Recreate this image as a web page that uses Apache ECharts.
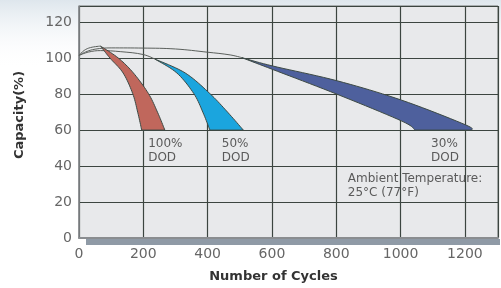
<!DOCTYPE html>
<html lang="en">
  <head>
    <meta charset="UTF-8" />
    <title>Capacity vs Cycles</title>
    <script src="https://cdn.jsdelivr.net/npm/echarts@6/dist/echarts.min.js"></script>
    <style>
      html, body { margin: 0; padding: 0; background: #fff; }
    </style>
  </head>
  <body>
    <div id="main" style="width: 501px; height: 288px"></div>
  </body>
</html>
<script>
  // envelope curves (cycles, capacity %)
  const curve100 = [[0, 101.5], [16, 104.3], [36, 105.9], [67, 106.7]]
  const curve50 = [[0, 101.5], [30, 103.4], [67, 104.2], [130, 103.6], [200, 102], [236, 99.5]]
  const curve30 = [[0, 101.5], [20, 103.4], [50, 105], [100, 105.7], [200, 105.6], [300, 105.1], [400, 103.3], [470, 101.8], [506, 100.3]]

  // wedge edges, each from the top point down to 60 %
  const outer100 = [[67, 106.7], [122, 100.1], [169, 91.8], [216, 80.3], [245, 69.6], [267, 60]]
  const inner100 = [[67, 106.7], [96, 100.1], [137, 91.8], [167, 80.3], [183, 69.6], [195, 60]]
  const outer50 = [[236, 99.5], [330, 91.8], [407, 80.3], [464, 69.6], [511, 60]]
  const inner50 = [[236, 99.5], [304, 91.8], [357, 80.3], [386, 69.6], [407, 60]]
  const outer30 = [[506, 100.3], [601, 95.7], [803, 87.4], [1004, 76.6], [1201, 63], [1221, 60]]
  const inner30 = [[506, 100.3], [601, 93.8], [803, 79.9], [1004, 65], [1045, 60]]

  const wedgeColors = ['#c0675c', '#1ba5de', '#4e609d']

  // annotation text (top-left anchor in data coords)
  const noteX = [215, 444, 1095, 836]
  const noteY = [56, 56, 56, 36.6]
  const noteText = ['100%\nDOD', '50%\nDOD', '30%\nDOD', 'Ambient Temperature:\n25°C (77°F)']

  const chartInstance = echarts.init(document.getElementById('main'))

  const wedges = [
    [outer100, inner100],
    [outer50, inner50],
    [outer30, inner30]
  ]

  // catmull-rom through pixel points, just for drawing smooth edges
  function spline(pts, steps) {
    const out = [pts[0]]
    for (let i = 0; i < pts.length - 1; i++) {
      const p0 = pts[Math.max(i - 1, 0)]
      const p1 = pts[i]
      const p2 = pts[i + 1]
      const p3 = pts[Math.min(i + 2, pts.length - 1)]
      for (let s = 1; s <= steps; s++) {
        const t = s / steps
        const t2 = t * t
        const t3 = t2 * t
        const pt = [0, 1].map(
          (k) =>
            0.5 *
            (2 * p1[k] +
              (-p0[k] + p2[k]) * t +
              (2 * p0[k] - 5 * p1[k] + 4 * p2[k] - p3[k]) * t2 +
              (-p0[k] + 3 * p1[k] - 3 * p2[k] + p3[k]) * t3)
        )
        out.push(pt)
      }
    }
    return out
  }

  const lineSeries = [curve100, curve50, curve30].map((c) => ({
    type: 'line',
    data: c,
    smooth: 0.4,
    showSymbol: false,
    silent: true,
    lineStyle: { color: '#5b605c', width: 1 },
    z: 3
  }))

  const option = {
    backgroundColor: '#ffffff',
    animation: false,
    grid: {
      left: 79,
      right: 3,
      top: 6,
      bottom: 49,
      show: true,
      backgroundColor: '#e8e9eb',
      borderColor: '#6f7370',
      borderWidth: 1
    },
    xAxis: {
      type: 'value',
      min: 0,
      max: 1303,
      interval: 200,
      name: 'Number of Cycles',
      nameLocation: 'middle',
      nameGap: 32,
      nameTextStyle: {
        fontFamily: 'DejaVu Sans',
        fontWeight: 'bold',
        fontSize: 13,
        color: '#333',
        padding: [0, 30, 0, 0]
      },
      axisLine: { show: true, lineStyle: { color: '#8a8d90', width: 2 } },
      axisTick: { show: false },
      axisLabel: {
        showMaxLabel: false,
        margin: 9,
        fontFamily: 'DejaVu Sans',
        fontSize: 14,
        color: '#666',
        formatter: (v) => String(v)
      },
      splitLine: { show: true, lineStyle: { color: '#3c4540', width: 1.2 } }
    },
    yAxis: {
      type: 'value',
      min: 0,
      max: 129,
      interval: 20,
      name: 'Capacity(%)',
      nameLocation: 'middle',
      nameGap: 53,
      nameRotate: 90,
      nameTextStyle: {
        fontFamily: 'DejaVu Sans',
        fontWeight: 'bold',
        fontSize: 13,
        color: '#333',
        padding: [0, 0, 0, 14]
      },
      axisLine: { show: true, lineStyle: { color: '#8a8d90', width: 1.5 } },
      axisTick: { show: false },
      axisLabel: {
        showMaxLabel: false,
        margin: 7,
        fontFamily: 'DejaVu Sans',
        fontSize: 14,
        color: '#666'
      },
      splitLine: { show: true, lineStyle: { color: '#3c4540', width: 1.2 } }
    },
    series: [
      ...lineSeries,
      {
        type: 'custom',
        silent: true,
        z: 4,
        data: wedges.map((w) => [w[0][0][0], w[0][0][1]]),
        renderItem: function (params, api) {
          const idx = params.dataIndex
          const outer = spline(wedges[idx][0].map((p) => api.coord(p)), 10)
          const inner = spline(wedges[idx][1].map((p) => api.coord(p)), 10)
          const pts = outer.concat(inner.slice(1).reverse())
          return {
            type: 'polygon',
            shape: { points: pts },
            style: { fill: wedgeColors[idx], stroke: '#3d4a45', lineWidth: 1 }
          }
        }
      },
      {
        type: 'custom',
        silent: true,
        z: 5,
        data: noteX.map((x, i) => [x, noteY[i]]),
        renderItem: function (params, api) {
          const p = api.coord([api.value(0), api.value(1)])
          return {
            type: 'text',
            x: p[0],
            y: p[1],
            style: {
              text: noteText[params.dataIndex],
              fill: '#5a5a5a',
              font: '12px "DejaVu Sans"',
              lineHeight: 14,
              align: 'left',
              verticalAlign: 'top'
            }
          }
        }
      }
    ]
  }

  chartInstance.setOption(option)

  // shadow strip under the x axis and faint tint along the top
  const origin = chartInstance.convertToPixel({ gridIndex: 0 }, [0, 0])
  const far = chartInstance.convertToPixel({ gridIndex: 0 }, [1303, 0])
  chartInstance.setOption({
    graphic: [
      {
        type: 'rect',
        z: -1,
        shape: { x: 0, y: 0, width: 501, height: 70 },
        style: {
          fill: new echarts.graphic.LinearGradient(0, 0, 0, 1, [
            { offset: 0, color: 'rgba(214,224,232,0.8)' },
            { offset: 1, color: 'rgba(255,255,255,0)' }
          ])
        }
      },
      {
        type: 'rect',
        z: 1,
        shape: { x: origin[0] + 7, y: origin[1] + 1, width: far[0] - origin[0] - 5, height: 6 },
        style: { fill: '#8f9aa6' }
      }
    ]
  })

  window.addEventListener('resize', () => {
    chartInstance.resize()
  })
</script>
